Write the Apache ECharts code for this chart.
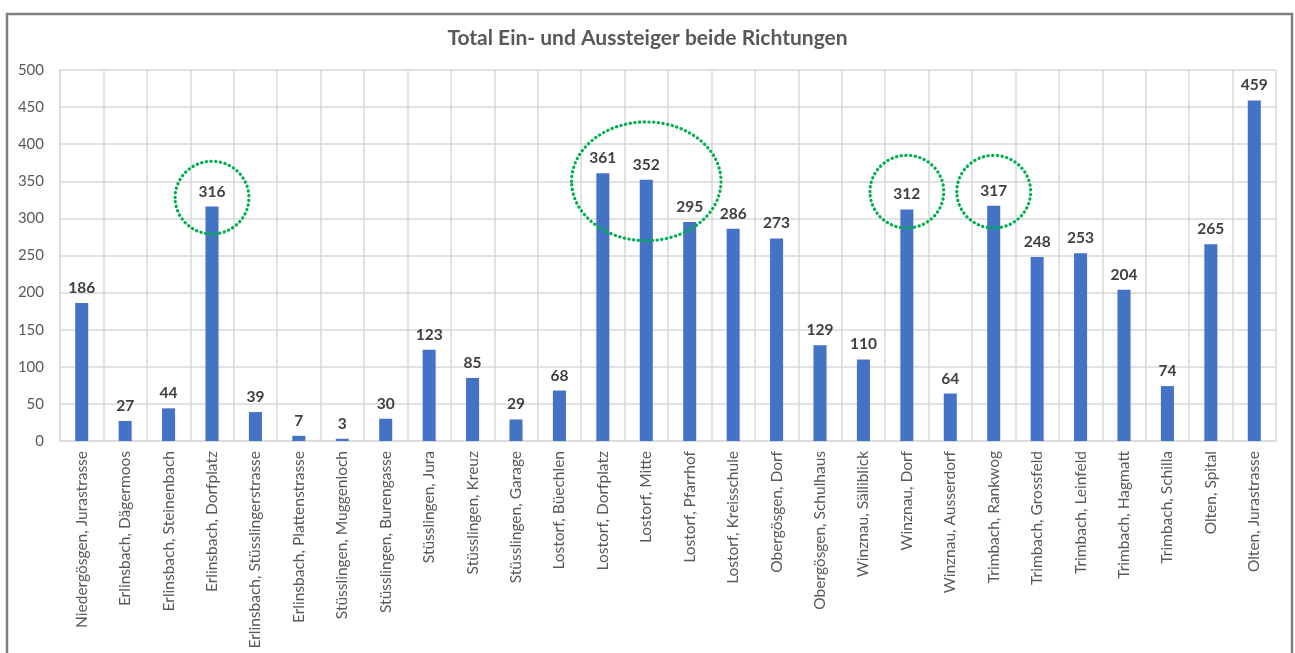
<!DOCTYPE html>
<html>
<head>
<meta charset="utf-8">
<script src="https://cdn.jsdelivr.net/npm/echarts@6/dist/echarts.min.js"></script>
<style>
html, body { margin: 0; padding: 0; background: #fff; }
#chart { width: 1295px; height: 653px; }
</style>
</head>
<body>
<div id="chart"></div>
<script>
// Haltestellen
const stops = [
    'Niedergösgen, Jurastrasse', 'Erlinsbach, Dägermoos', 'Erlinsbach, Steinenbach',
    'Erlinsbach, Dorfplatz', 'Erlinsbach, Stüsslingerstrasse', 'Erlinsbach, Plattenstrasse',
    'Stüsslingen, Muggenloch', 'Stüsslingen, Burengasse', 'Stüsslingen, Jura',
    'Stüsslingen, Kreuz', 'Stüsslingen, Garage', 'Lostorf, Büechlen',
    'Lostorf, Dorfplatz', 'Lostorf, Mitte', 'Lostorf, Pfarrhof', 'Lostorf, Kreisschule',
    'Obergösgen, Dorf', 'Obergösgen, Schulhaus', 'Winznau, Sälliblick', 'Winznau, Dorf',
    'Winznau, Ausserdorf', 'Trimbach, Rankwog', 'Trimbach, Grossfeld', 'Trimbach, Leinfeld',
    'Trimbach, Hagmatt', 'Trimbach, Schilla', 'Olten, Spital', 'Olten, Jurastrasse'
];
// Total Ein- und Aussteiger
const totals = [186, 27, 44, 316, 39, 7, 3, 30, 123, 85, 29, 68, 361, 352, 295, 286,
    273, 129, 110, 312, 64, 317, 248, 253, 204, 74, 265, 459];
const yTicks = [0, 50, 100, 150, 200, 250, 300, 350, 400, 450, 500];

// markierte Haltestellen: [Kategorie, Mittelwert, Radius in Kategorien, Radius in Werten]
const circleCenters = [3, 13, 19, 21];
const circleValues = [328, 350, 336, 336];
const circleRx = [0.85, 1.72, 0.85, 0.85];
const circleRy = [49, 80, 49, 49];

let chart = echarts.init(document.getElementById('chart'));

let option = {
    animation: false,
    textStyle: { fontFamily: 'Lato, "Open Sans", sans-serif' },
    title: {
        text: 'Total Ein- und Aussteiger beide Richtungen',
        left: 'center',
        top: 23,
        textStyle: { fontSize: 21, fontWeight: 'bold', color: '#595959', fontFamily: 'Lato' }
    },
    graphic: [{
        type: 'rect',
        shape: { x: 7, y: 14, width: 1285, height: 660 },
        style: { fill: 'none', stroke: '#808080', lineWidth: 2.5 },
        silent: true
    }],
    grid: { left: 60, right: 19, top: 70, bottom: 212 },
    xAxis: {
        type: 'category',
        data: stops,
        axisLine: { lineStyle: { color: '#d9d9d9', width: 1.5 } },
        axisTick: { show: false },
        splitLine: { show: true, interval: 0, lineStyle: { color: '#d9d9d9', width: 1.5 } },
        axisLabel: { rotate: 90, interval: 0, margin: 10, fontSize: 15.5, color: '#595959', fontFamily: 'Lato' }
    },
    yAxis: {
        type: 'value',
        min: yTicks[0],
        max: yTicks[yTicks.length - 1],
        interval: 50,
        axisLine: { show: true, lineStyle: { color: '#d9d9d9', width: 1.5 } },
        axisTick: { show: false },
        splitLine: { lineStyle: { color: '#d9d9d9', width: 1.5 } },
        axisLabel: { fontSize: 15, color: '#595959', margin: 16, fontFamily: 'Lato' }
    },
    series: [
        {
            type: 'bar',
            data: totals,
            barWidth: '30%',
            itemStyle: { color: '#4472c4' },
            label: {
                show: true,
                position: 'top',
                distance: 7,
                fontSize: 15.5,
                fontWeight: 'bold',
                color: '#404040',
                fontFamily: 'Lato'
            }
        },
        {
            type: 'custom',
            silent: true,
            z: 5,
            data: circleCenters.map((c, i) => [c, circleValues[i], circleRx[i], circleRy[i]]),
            renderItem: function (params, api) {
                let center = api.coord([api.value(0), api.value(1)]);
                let band = api.size([1, 0])[0];
                let unit = api.size([0, 1])[1];
                return {
                    type: 'ellipse',
                    shape: {
                        cx: center[0],
                        cy: center[1],
                        rx: api.value(2) * band,
                        ry: api.value(3) * unit
                    },
                    style: {
                        fill: 'none',
                        stroke: '#00b050',
                        lineWidth: 3.2,
                        lineDash: [0.3, 4.4],
                        lineCap: 'round'
                    }
                };
            }
        }
    ]
};

chart.setOption(option);
</script>
</body>
</html>
